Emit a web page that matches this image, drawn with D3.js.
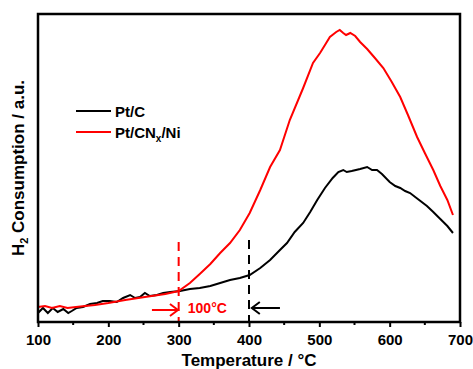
<!DOCTYPE html>
<html>
<head>
<meta charset="utf-8">
<script src="https://cdn.jsdelivr.net/npm/d3@7"></script>
<style>
  body { margin: 0; background: #fff; }
  svg text { font-family: Arial, "Liberation Sans", sans-serif; font-weight: bold; }
</style>
</head>
<body>
<svg width="473" height="369"></svg>
<script>
// Pt/CNx/Ni  (temperature, H2 consumption a.u.)
const redT = [100,110,120,131,142,154,167,181,200,224,252,281,300,316,330,345,359,373,387,401,416,430,444,458,477,491,501,508,515,524,529,534,538,544,551,558,568,579,591,603,615,626,639,650,662,672,682,690];
const redV = [15,16,14,16,14,15,16,17,19,22,25,28,31,39,48,58,69,79,92,109,132,155,172,202,234,259,269,277,285,290,292,289,287,289,286,280,273,264,254,240,225,207,185,169,152,136,122,107];

// Pt/C
const blackT = [100,107,114,121,128,136,143,148,155,164,174,184,192,202,212,221,231,238,245,252,259,269,278,288,302,316,330,345,359,373,387,401,416,430,444,454,465,477,487,497,508,519,527,534,539,546,558,568,575,582,589,600,608,615,622,629,640,653,662,672,682,690];
const blackV = [9,14,9,14,10,13,9,11,14,15,18,19,21,21,20,24,27,24,25,29,26,27,29,30,31,33,34,36,39,42,44,47,54,62,72,79,90,99,110,122,134,144,150,152,150,151,153,155,152,152,148,140,136,134,131,129,123,116,110,103,96,89];

const xTicks = [100, 200, 300, 400, 500, 600, 700];
const xMinor = [150, 250, 350, 450, 550, 650];

// onset markers: temperature, dash top value, colour
const markers = [
  {t: 300, top: 80, color: "#ff0000"},
  {t: 400, top: 82, color: "#000000"}
];
// arrows: from -> to at value
const arrows = [
  {from: 262, to: 299, v: 12, color: "#ff0000"},
  {from: 444, to: 404, v: 14, color: "#000000"}
];

const svg = d3.select("svg");
const margin = {left: 38, right: 13, top: 14, bottom: 47};
const width = 473, height = 369;

const x = d3.scaleLinear().domain([100, 700]).range([margin.left, width - margin.right]);
const y = d3.scaleLinear().domain([0, 308]).range([height - margin.bottom, margin.top]);

const line = d3.line().x(d => x(d[0])).y(d => y(d[1]));

// x axis
const xAxis = svg.append("g")
  .attr("transform", `translate(0,${y(0)})`)
  .call(d3.axisBottom(x).tickValues(xTicks).tickSize(5).tickPadding(7).tickFormat(d3.format("d")));
xAxis.select(".domain").remove();
xAxis.selectAll(".tick line").attr("stroke", "#000").attr("stroke-width", 2);
xAxis.selectAll(".tick text").attr("fill", "#000").style("font-size", "15px")
  .style("font-family", "Arial, 'Liberation Sans', sans-serif").style("font-weight", "bold");

svg.append("g").selectAll("line")
  .data(xMinor)
  .enter()
  .append("line")
    .attr("x1", d => x(d)).attr("x2", d => x(d))
    .attr("y1", y(0)).attr("y2", y(0) + 3)
    .attr("stroke", "#000").attr("stroke-width", 2);

// curves
svg.append("path")
  .datum(blackT.map((t, i) => [t, blackV[i]]))
  .attr("d", line)
  .attr("fill", "none").attr("stroke", "#000").attr("stroke-width", 2);
svg.append("path")
  .datum(redT.map((t, i) => [t, redV[i]]))
  .attr("d", line)
  .attr("fill", "none").attr("stroke", "#ff0000").attr("stroke-width", 2);

// dashed onset lines
svg.append("g").selectAll("line")
  .data(markers)
  .enter()
  .append("line")
    .attr("x1", d => x(d.t)).attr("x2", d => x(d.t))
    .attr("y1", d => y(d.top)).attr("y2", y(0))
    .attr("stroke", d => d.color).attr("stroke-width", 2)
    .attr("stroke-dasharray", "9,6");

// arrows
arrows.forEach(a => {
  const dir = a.to > a.from ? 1 : -1;
  const g = svg.append("g").attr("stroke", a.color).attr("stroke-width", 2).attr("fill", "none");
  g.append("line")
    .attr("x1", x(a.from)).attr("x2", x(a.to))
    .attr("y1", y(a.v)).attr("y2", y(a.v));
  g.append("path")
    .attr("d", `M${x(a.to) - dir * 8},${y(a.v) - 6}L${x(a.to)},${y(a.v)}L${x(a.to) - dir * 8},${y(a.v) + 6}`);
});

svg.append("text")
  .attr("x", x(313)).attr("y", y(9))
  .attr("fill", "#ff0000").style("font-size", "14px")
  .text("100°C");

// frame
svg.append("rect")
  .attr("x", margin.left).attr("y", margin.top)
  .attr("width", width - margin.left - margin.right)
  .attr("height", height - margin.top - margin.bottom)
  .attr("fill", "none").attr("stroke", "#000").attr("stroke-width", 2.5);

// axis titles
svg.append("text")
  .attr("x", (x(100) + x(700)) / 2).attr("y", 366)
  .attr("text-anchor", "middle").style("font-size", "17px")
  .text("Temperature / °C");

const yt = svg.append("text")
  .attr("transform", `translate(24,${(y(0) + y(308)) / 2}) rotate(-90)`)
  .attr("text-anchor", "middle").style("font-size", "17px");
yt.append("tspan").text("H");
yt.append("tspan").attr("dy", 4).style("font-size", "11px").text("2");
yt.append("tspan").attr("dy", -4).text(" Consumption / a.u.");

// legend
const legend = [
  {label: "Pt/C", color: "#000"},
  {label: "Pt/CN", sub: "x", rest: "/Ni", color: "#ff0000"}
];
const lg = svg.append("g").selectAll("g")
  .data(legend)
  .enter()
  .append("g")
    .attr("transform", (d, i) => `translate(76,${111 + i * 21})`);
lg.append("line")
  .attr("x1", 0).attr("x2", 35).attr("y1", 0).attr("y2", 0)
  .attr("stroke", d => d.color).attr("stroke-width", 2);
const lt = lg.append("text")
  .attr("x", 39).attr("y", 6)
  .style("font-size", "15px");
lt.append("tspan").text(d => d.label);
lt.filter(d => d.sub).append("tspan").attr("dy", 4).style("font-size", "10px").text(d => d.sub);
lt.filter(d => d.sub).append("tspan").attr("dy", -4).text(d => d.rest);
</script>
</body>
</html>
